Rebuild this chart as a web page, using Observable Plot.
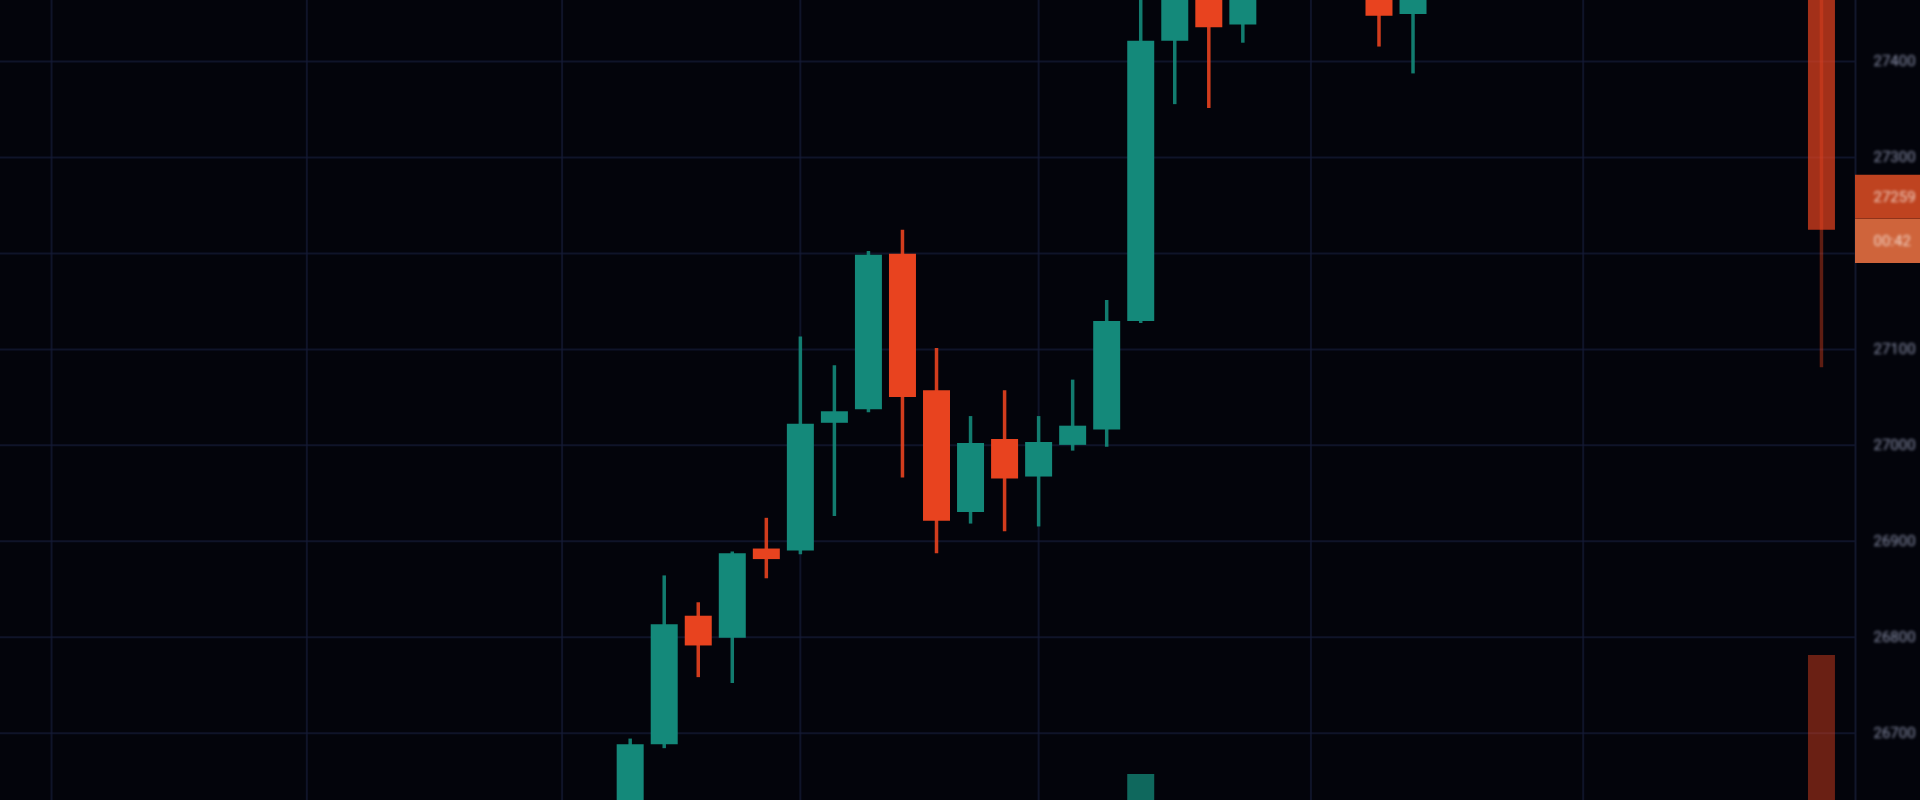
<!DOCTYPE html>
<html>
<head>
<meta charset="utf-8">
<script src="https://cdn.jsdelivr.net/npm/d3@7"></script>
<script src="https://cdn.jsdelivr.net/npm/@observablehq/plot@0.6"></script>
<style>
  html, body { margin: 0; padding: 0; background: #03040b; overflow: hidden; }
  #chart svg { display: block; }
  #chart g[aria-label="y-axis tick label"] text { filter: blur(1.5px); }
  #chart .pricelabel text { filter: blur(1.8px); }
</style>
</head>
<body>
<div id="chart"></div>
<script>
// ---- data ----
const idx   = [0, 1, 2, 3, 4, 5, 6, 7, 8, 9, 10, 11, 12, 13, 14, 15, 16, 17, 18, 22, 23, 35];
const open  = [26600, 26688, 26822, 26799, 26892, 26890, 27023, 27037, 27199, 27057, 26930, 27006, 26967, 27000, 27016, 27129, 27421, 27500, 27438, 27500, 27449, 27560];
const high  = [26694, 26864, 26836, 26889, 26924, 27113, 27083, 27202, 27224, 27101, 27030, 27057, 27030, 27068, 27151, 27480, 27530, 27545, 27530, 27540, 27540, 27600];
const low   = [26580, 26684, 26758, 26752, 26861, 26886, 26926, 27034, 26966, 26887, 26918, 26910, 26915, 26994, 26998, 27127, 27355, 27351, 27419, 27415, 27387, 27081];
const close = [26688, 26813, 26791, 26887, 26881, 27022, 27035, 27198, 27050, 26921, 27002, 26965, 27003, 27020, 27129, 27421, 27475, 27435, 27490, 27447, 27490, 27224];
// volume bars visible at the bottom edge (only the tallest ones show)
const volIdx   = [15, 35];
const volValue = [590, 1830];
const volDir   = ["up", "down"];

const yTicks = [26700, 26800, 26900, 27000, 27100, 27200, 27300, 27400];
const yTickLabels = [26700, 26800, 26900, 27000, 27100, 27300, 27400]; // 27200 hidden under the price tag
const xTicks = [-17, -9.5, -2, 5, 12, 20, 28];
const priceLabels = [27259, 27213];
const priceLabelText = ["27259", "00:42"];

// ---- derived tables ----
const UP = "#14897a", DOWN = "#e8431f";
const candles = idx.map((i, k) => ({i, open: open[k], high: high[k], low: low[k], close: close[k],
  color: close[k] >= open[k] ? UP : DOWN, far: i > 30}));
const volBase = 26598, volUnit = 0.1;
const vols = volIdx.map((i, k) => ({i, v: volValue[k], color: volDir[k] === "up" ? UP : DOWN}));
const labels = priceLabels.map((y, k) => ({y, text: priceLabelText[k], bg: k === 0 ? "#bf4320" : "#cf643b"}));

const chart = Plot.plot({
  width: 1920,
  height: 800,
  marginTop: 0,
  marginBottom: 0,
  marginLeft: 0,
  marginRight: 65,
  style: {background: "#03040b", color: "#8a90a8", fontFamily: "Roboto, sans-serif"},
  x: {domain: [-18.5, 36], axis: null},
  y: {domain: [26630, 27463.5], axis: null},
  color: {type: "identity"},
  marks: [
    Plot.gridX(xTicks, {stroke: "#151b36", strokeOpacity: 0.7, strokeWidth: 2}),
    Plot.gridY(yTicks, {stroke: "#151b36", strokeOpacity: 0.7, strokeWidth: 2}),
    Plot.frame({anchor: "right", stroke: "#12172c", strokeWidth: 2}),
    // volume
    Plot.ruleX(vols, {x: "i", y1: volBase, y2: d => volBase + d.v * volUnit, stroke: "color",
      strokeWidth: 27, strokeOpacity: d => d.color === DOWN ? 0.45 : 0.75, clip: true}),
    // wicks
    Plot.ruleX(candles, {x: "i", y1: "low", y2: "high", stroke: "color", strokeWidth: 3.5,
      strokeOpacity: d => d.far ? 0.4 : 0.9, clip: true}),
    // bodies
    Plot.ruleX(candles, {x: "i", y1: "open", y2: "close", stroke: "color", strokeWidth: 27,
      strokeOpacity: d => d.far ? 0.7 : 1, clip: true}),
    Plot.axisY(yTickLabels, {anchor: "right", tickSize: 0, tickPadding: 18, fontSize: 15,
      fill: "#8d93ad", tickFormat: d => String(d)}),
    // current-price tags on the axis
    Plot.ruleY(labels, {y: "y", x1: 36, x2: 38.2, stroke: "bg", strokeWidth: 44}),
    Plot.text(labels, {y: "y", x: 36, dx: 18, text: "text", textAnchor: "start", fill: "#f3d6c8",
      fontSize: 15, className: "pricelabel"})
  ]
});
document.getElementById("chart").appendChild(chart);
</script>
</body>
</html>
